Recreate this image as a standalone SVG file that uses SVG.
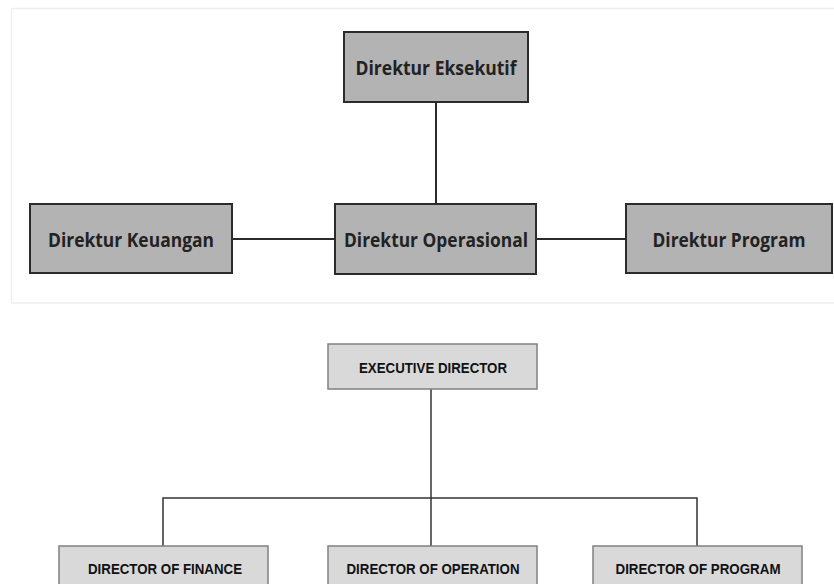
<svg xmlns="http://www.w3.org/2000/svg" width="834" height="584" viewBox="0 0 834 584">
<style>
.tb{fill:#b3b3b3;stroke:#2b2b2b;stroke-width:2}
.tt{font-family:"Open Sans","Noto Sans",sans-serif;font-weight:bold;font-size:20px;fill:#222;text-anchor:middle}
.bb{fill:#d9d9d9;stroke:#808080;stroke-width:1.5}
.bt{font-family:"Liberation Sans",Arial,sans-serif;font-weight:bold;font-size:14px;fill:#111;text-anchor:middle}
.c1{stroke:#2b2b2b;stroke-width:2;fill:none}
.c2{stroke:#333;stroke-width:1.5;fill:none}
</style>
<rect x="0" y="0" width="834" height="584" fill="#fff"/>
<rect x="11.5" y="8.5" width="830" height="294.5" fill="none" stroke="#efefef" stroke-width="1.5"/>
<g id="connectors">
<line class="c1" x1="436" y1="102" x2="436" y2="204"/>
<line class="c1" x1="232" y1="239" x2="335" y2="239"/>
<line class="c1" x1="536" y1="239" x2="626" y2="239"/>
<line class="c2" x1="431" y1="389" x2="431" y2="546"/>
<polyline class="c2" points="163,546 163,498 697,498 697,546"/>
</g>
<g id="direktur-eksekutif">
<rect class="tb" x="344" y="32" width="184" height="70"/>
<text class="tt" x="436" y="74.5" textLength="161" lengthAdjust="spacingAndGlyphs">Direktur Eksekutif</text>
</g>
<g id="direktur-keuangan">
<rect class="tb" x="30" y="204" width="202" height="69"/>
<text class="tt" x="131" y="246.5" textLength="166" lengthAdjust="spacingAndGlyphs">Direktur Keuangan</text>
</g>
<g id="direktur-operasional">
<rect class="tb" x="335" y="204" width="201" height="70"/>
<text class="tt" x="436" y="246.5" textLength="184" lengthAdjust="spacingAndGlyphs">Direktur Operasional</text>
</g>
<g id="direktur-program">
<rect class="tb" x="626" y="204" width="206" height="69"/>
<text class="tt" x="729" y="246.5" textLength="153" lengthAdjust="spacingAndGlyphs">Direktur Program</text>
</g>
<g id="executive-director">
<rect class="bb" x="328" y="344" width="209" height="45"/>
<text class="bt" x="433" y="372.5" textLength="148" lengthAdjust="spacingAndGlyphs">EXECUTIVE DIRECTOR</text>
</g>
<g id="director-finance">
<rect class="bb" x="59" y="546" width="209" height="45"/>
<text class="bt" x="165" y="573.5" textLength="154" lengthAdjust="spacingAndGlyphs">DIRECTOR OF FINANCE</text>
</g>
<g id="director-operation">
<rect class="bb" x="328" y="546" width="209" height="45"/>
<text class="bt" x="433" y="573.5" textLength="173" lengthAdjust="spacingAndGlyphs">DIRECTOR OF OPERATION</text>
</g>
<g id="director-program">
<rect class="bb" x="593" y="546" width="209" height="45"/>
<text class="bt" x="698" y="573.5" textLength="165" lengthAdjust="spacingAndGlyphs">DIRECTOR OF PROGRAM</text>
</g>
</svg>
